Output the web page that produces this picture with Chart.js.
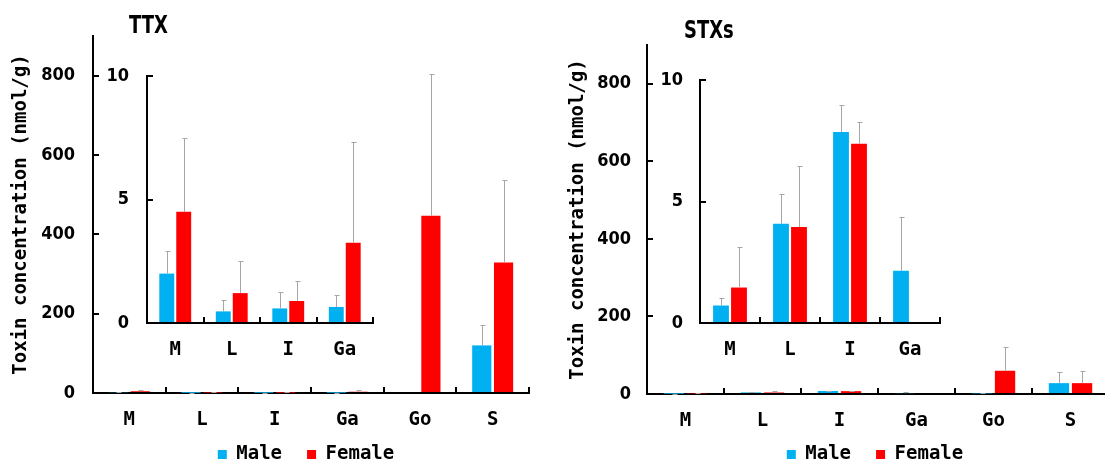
<!DOCTYPE html>
<html>
<head>
<meta charset="utf-8">
<script src="https://cdn.jsdelivr.net/npm/chart.js@4.4.1/dist/chart.umd.min.js"></script>
<style>
html, body { margin: 0; padding: 0; background: #fff; overflow: hidden; }
#page { position: relative; width: 1105px; height: 466px; overflow: hidden; }
.box { position: absolute; }
.title { position: absolute; font-family: 'DejaVu Sans Condensed', 'Liberation Sans Narrow', sans-serif; font-weight: bold; font-size: 25px; line-height: 1; color: #000; transform: scaleX(0.8); transform-origin: left top; }
</style>
</head>
<body>
<div id="page">
  <div class="box" style="left:0;top:0;width:612px;height:474px"><canvas id="ttxMain"></canvas></div>
  <div class="box" style="left:550px;top:0;width:650px;height:474px"><canvas id="stxMain"></canvas></div>
  <div class="box" style="left:100px;top:60px;width:290px;height:305px"><canvas id="ttxInset"></canvas></div>
  <div class="box" style="left:650px;top:60px;width:310px;height:305px"><canvas id="stxInset"></canvas></div>
  <div class="title" style="left:129px;top:12px">TTX</div>
  <div class="title" style="left:684px;top:17px">STXs</div>
</div>
<script>
// tissues: muscle, liver, intestine, gall, gonad, skin
const mainCategories = ["M", "L", "I", "Ga", "Go", "S"];
const insetCategories = ["M", "L", "I", "Ga"];
const seriesNames = ["Male", "Female"];
const mainTicks = [0, 200, 400, 600, 800];
const insetTicks = [0, 5, 10];

// TTX, nmol/g (mean + SD)
const ttxMale = [2.0, 0.47, 0.59, 0.65, 0, 120];
const ttxMaleSd = [0.9, 0.47, 0.65, 0.48, 0, 51];
const ttxFemale = [4.5, 1.21, 0.89, 3.25, 447, 329];
const ttxFemaleSd = [3.0, 1.3, 0.82, 4.09, 356, 209];

// STXs, nmol/g (mean + SD)
const stxMale = [0.72, 4.08, 7.86, 2.15, 1.5, 28];
const stxMaleSd = [0.31, 1.22, 1.11, 2.21, 1.5, 30];
const stxFemale = [1.46, 3.95, 7.38, 0, 60, 28];
const stxFemaleSd = [1.66, 2.5, 0.88, 0, 62, 32];

const narrow = "'DejaVu Sans Condensed', 'Liberation Sans Narrow', sans-serif";
const mono = "'DejaVu Sans Mono', 'Liberation Mono', monospace";
const maleColor = "#00b0f0";
const femaleColor = "#ff0000";

// upper error bar only, like the excel original
const errorBars = {
    id: "errorBars",
    afterDatasetsDraw(chart) {
        const ctx = chart.ctx;
        const y = chart.scales.y;
        ctx.save();
        ctx.strokeStyle = "#a6a6a6";
        ctx.lineWidth = 1;
        chart.data.datasets.forEach((ds, i) => {
            const meta = chart.getDatasetMeta(i);
            meta.data.forEach((bar, j) => {
                const e = ds.errors[j];
                if (!e) return;
                const top = Math.round(y.getPixelForValue(ds.data[j] + e)) + 0.5;
                const x = Math.round(bar.x) + 0.5;
                ctx.beginPath();
                ctx.moveTo(x, bar.y);
                ctx.lineTo(x, top);
                ctx.moveTo(x - 2, top);
                ctx.lineTo(x + 3, top);
                ctx.stroke();
            });
        });
        ctx.restore();
    }
};

// keep chart.js from growing the chart area margins for the end labels
function noPad(s) {
    s.paddingTop = 0;
    s.paddingBottom = 0;
    s.paddingLeft = 0;
    s.paddingRight = 0;
}

function barChart(id, cfg) {
    return new Chart(document.getElementById(id), {
        type: "bar",
        data: {
            labels: cfg.labels,
            datasets: [
                {label: seriesNames[0], data: cfg.male, errors: cfg.maleSd, backgroundColor: maleColor},
                {label: seriesNames[1], data: cfg.female, errors: cfg.femaleSd, backgroundColor: femaleColor}
            ]
        },
        options: {
            responsive: true,
            maintainAspectRatio: false,
            animation: false,
            categoryPercentage: 0.6,
            barPercentage: 0.88,
            layout: {padding: {top: cfg.top, left: 0, right: 0, bottom: 0}},
            plugins: {
                tooltip: {enabled: false},
                legend: cfg.legend ? {
                    position: "bottom",
                    labels: {
                        boxWidth: 9,
                        boxHeight: 9,
                        padding: 25,
                        color: "#000",
                        font: {family: mono, size: 19, weight: "bold"}
                    }
                } : {display: false}
            },
            scales: {
                x: {
                    grid: {drawOnChartArea: false, tickLength: -6, color: "#000", lineWidth: 2},
                    border: {color: "#000", width: 2},
                    ticks: {color: "#000", font: {family: mono, size: 19, weight: "bold"}, padding: cfg.xPad},
                    afterFit: s => {
                        s.height = cfg.xHeight;
                        noPad(s);
                        // labels sit lower than the (short) axis box, don't clip them
                        s._computeLabelArea = () => undefined;
                    }
                },
                y: {
                    min: 0,
                    max: cfg.max,
                    afterBuildTicks: s => { s.ticks = cfg.ticks.map(v => ({value: v})); },
                    grid: {drawOnChartArea: false, tickLength: -6, color: "#000", lineWidth: 2},
                    border: {color: "#000", width: 2},
                    ticks: {color: "#000", font: {family: narrow, size: 18, weight: "bold"}, padding: cfg.yPad},
                    title: cfg.yTitle ? {
                        display: true,
                        text: "Toxin concentration (nmol/g)",
                        color: "#000",
                        font: {family: mono, size: 19, weight: "bold"},
                        padding: {top: cfg.titlePad, bottom: 0}
                    } : {display: false},
                    afterFit: s => { s.width = cfg.yWidth; noPad(s); }
                },
                pad: {
                    axis: "y",
                    position: "right",
                    grid: {display: false},
                    border: {display: false},
                    ticks: {display: false},
                    afterFit: s => { s.width = cfg.rightWidth; noPad(s); }
                }
            }
        },
        plugins: [errorBars]
    });
}

barChart("ttxMain", {
    labels: mainCategories, male: ttxMale, maleSd: ttxMaleSd, female: ttxFemale, femaleSd: ttxFemaleSd,
    max: 900, ticks: mainTicks, top: 36, yWidth: 93, rightWidth: 83, xHeight: 27,
    xPad: 22, yPad: 24, legend: true, yTitle: true, titlePad: 10
});

barChart("stxMain", {
    labels: mainCategories, male: stxMale, maleSd: stxMaleSd, female: stxFemale, femaleSd: stxFemaleSd,
    max: 900, ticks: mainTicks, top: 45, yWidth: 97, rightWidth: 91, xHeight: 26,
    xPad: 22, yPad: 22, legend: true, yTitle: true, titlePad: 17
});

barChart("ttxInset", {
    labels: insetCategories,
    male: ttxMale.slice(0, 4), maleSd: ttxMaleSd.slice(0, 4),
    female: ttxFemale.slice(0, 4), femaleSd: ttxFemaleSd.slice(0, 4),
    max: 10, ticks: insetTicks, top: 16, yWidth: 47, rightWidth: 17, xHeight: 42,
    xPad: 22, yPad: 24, legend: false, yTitle: false
});

barChart("stxInset", {
    labels: insetCategories,
    male: stxMale.slice(0, 4), maleSd: stxMaleSd.slice(0, 4),
    female: stxFemale.slice(0, 4), femaleSd: stxFemaleSd.slice(0, 4),
    max: 10, ticks: insetTicks, top: 20, yWidth: 50, rightWidth: 20, xHeight: 42,
    xPad: 22, yPad: 23, legend: false, yTitle: false
});
</script>
</body>
</html>
